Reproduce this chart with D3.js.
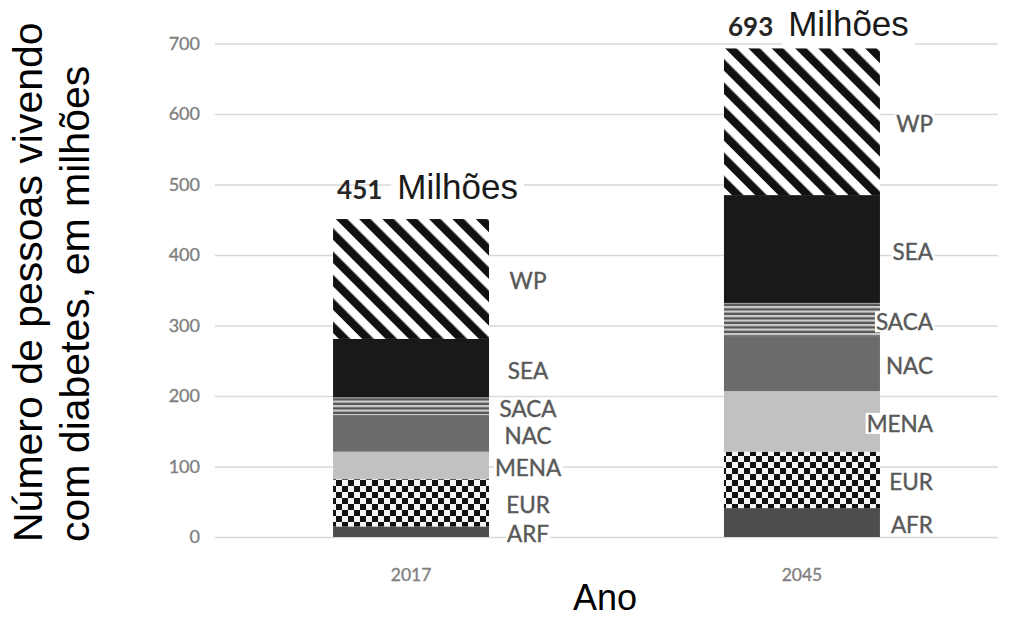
<!DOCTYPE html>
<html>
<head>
<meta charset="utf-8">
<script src="https://cdn.jsdelivr.net/npm/d3@7"></script>
<style>
  body { margin: 0; background: #fff; }
  svg { display: block; }
</style>
</head>
<body>
<svg id="chart" width="1019" height="619"></svg>
<script>
// ---- data ----
const years = ["2017", "2045"];
const regions = ["AFR", "EUR", "MENA", "NAC", "SACA", "SEA", "WP"];
const regionLabels2017 = ["ARF", "EUR", "MENA", "NAC", "SACA", "SEA", "WP"];
const regionLabels2045 = ["AFR", "EUR", "MENA", "NAC", "SACA", "SEA", "WP"];
const values2017 = [15, 67, 39, 52, 25, 83, 170];
const values2045 = [41, 80, 86, 77, 48, 153, 208];
const totals = [451, 693];
const totalUnit = "Milhões";
const yTicks = [0, 100, 200, 300, 400, 500, 600, 700];
const yTitle = ["Número de pessoas vivendo", "com diabetes, em milhões"];
const xTitle = "Ano";

// ---- layout ----
const plot = { left: 215, right: 998, top: 43.5, bottom: 537 };
const labelFont = "Lato, 'Open Sans', sans-serif";
const titleFont = "'Liberation Sans', Arial, sans-serif";

const svg = d3.select("#chart");

const table = years.map((yr, i) => {
  const row = { year: yr };
  const vals = i === 0 ? values2017 : values2045;
  regions.forEach((r, j) => { row[r] = vals[j]; });
  return row;
});
const labelSets = [regionLabels2017, regionLabels2045];

const stacked = d3.stack().keys(regions)(table);

const x = d3.scaleBand()
  .domain(years)
  .range([plot.left, plot.right])
  .paddingInner(0.601)
  .paddingOuter(0.302);

const y = d3.scaleLinear()
  .domain([0, 700])
  .range([plot.bottom, plot.top]);

// ---- fill patterns ----
const defs = svg.append("defs");

// diagonal stripes
const diag = defs.append("pattern")
  .attr("id", "diag")
  .attr("patternUnits", "userSpaceOnUse")
  .attr("width", 16.5).attr("height", 16.5)
  .attr("patternTransform", "rotate(-45)");
diag.append("rect").attr("width", 16.5).attr("height", 16.5).attr("fill", "#ffffff");
diag.append("rect").attr("width", 8.2).attr("height", 16.5).attr("fill", "#111111");

// horizontal stripes
const hstripe = defs.append("pattern")
  .attr("id", "hstripe")
  .attr("patternUnits", "userSpaceOnUse")
  .attr("width", 10).attr("height", 4.5);
hstripe.append("rect").attr("width", 10).attr("height", 4.5).attr("fill", "#555555");
hstripe.append("rect").attr("y", 0).attr("width", 10).attr("height", 2.2).attr("fill", "#cdcdcd");

// checkerboard
const cell = 6;
const checker = defs.append("pattern")
  .attr("id", "checker")
  .attr("patternUnits", "userSpaceOnUse")
  .attr("width", cell * 2).attr("height", cell * 2);
checker.append("rect").attr("width", cell * 2).attr("height", cell * 2).attr("fill", "#f4f4f4");
checker.append("rect").attr("width", cell).attr("height", cell).attr("fill", "#111111");
checker.append("rect").attr("x", cell).attr("y", cell).attr("width", cell).attr("height", cell).attr("fill", "#111111");

const fills = {
  AFR: "#4d4d4d",
  EUR: "url(#checker)",
  MENA: "#c1c1c1",
  NAC: "#6b6b6b",
  SACA: "url(#hstripe)",
  SEA: "#191919",
  WP: "url(#diag)"
};

// ---- y axis with gridlines ----
const yAxis = svg.append("g")
  .attr("transform", `translate(${plot.left},0)`)
  .call(d3.axisLeft(y).tickValues(yTicks).tickSize(-(plot.right - plot.left)).tickPadding(15));
yAxis.select(".domain").remove();
yAxis.selectAll(".tick line").attr("stroke", "#d9d9d9").attr("stroke-width", 1.6);
yAxis.selectAll(".tick text")
  .attr("fill", "#7f7f7f")
  .attr("stroke", "#7f7f7f")
  .attr("stroke-width", 0.35)
  .style("font-family", labelFont)
  .style("font-size", "18px");

// ---- x axis ----
const xAxis = svg.append("g")
  .attr("transform", `translate(0,${plot.bottom})`)
  .call(d3.axisBottom(x).tickSize(0).tickPadding(32));
xAxis.select(".domain").remove();
xAxis.selectAll(".tick text")
  .attr("fill", "#7f7f7f")
  .attr("stroke", "#7f7f7f")
  .attr("stroke-width", 0.35)
  .style("font-family", labelFont)
  .style("font-size", "17.5px");

// ---- stacked bars ----
svg.append("g")
  .selectAll("g")
  .data(stacked)
  .join("g")
  .attr("fill", d => fills[d.key])
  .selectAll("rect")
  .data(d => d)
  .join("rect")
  .attr("x", d => x(d.data.year))
  .attr("y", d => y(d[1]))
  .attr("width", x.bandwidth())
  .attr("height", d => y(d[0]) - y(d[1]));

// ---- segment labels ----
const labelPlacement = [
  { anchor: "middle", dx: 39 },
  { anchor: "end", dx: 53 }
];
const labelG = svg.append("g");
stacked.forEach((layer, j) => {
  layer.forEach((seg, i) => {
    const place = labelPlacement[i];
    const barRight = x(years[i]) + x.bandwidth();
    const t = labelG.append("text")
      .attr("x", barRight + place.dx)
      .attr("y", y((seg[0] + seg[1]) / 2) + 2)
      .attr("text-anchor", place.anchor)
      .attr("dominant-baseline", "central")
      .attr("fill", "#595959")
      .attr("stroke", "#595959")
      .attr("stroke-width", 0.4)
      .style("font-family", labelFont)
      .style("font-size", "22.5px")
      .text(labelSets[i][j]);
    const bb = t.node().getBBox();
    labelG.insert("rect", "text")
      .attr("x", bb.x - 1).attr("y", bb.y + 3)
      .attr("width", bb.width + 2).attr("height", bb.height - 6)
      .attr("fill", "#ffffff");
  });
});

// ---- totals above bars ----
const totalBaseline = [-20, -12];
totals.forEach((tot, i) => {
  const left = x(years[i]) + 4;
  const base = y(tot) + totalBaseline[i];
  const num = svg.append("text")
    .attr("x", left).attr("y", base)
    .attr("fill", "#262626")
    .style("font-family", labelFont)
    .style("font-weight", "bold")
    .style("font-size", "26px")
    .text(tot);
  const numW = num.node().getComputedTextLength();
  const unitX = left + numW + 15;
  const unit = svg.append("text")
    .attr("x", unitX).attr("y", base)
    .attr("fill", "#1a1a1a")
    .style("font-family", titleFont)
    .style("font-size", "35px")
    .text(totalUnit);
  const bb = unit.node().getBBox();
  svg.insert("rect", () => unit.node())
    .attr("x", bb.x - 6).attr("y", bb.y)
    .attr("width", bb.width + 12).attr("height", (base + 10) - bb.y)
    .attr("fill", "#ffffff");
});

// ---- axis titles ----
yTitle.forEach((line, k) => {
  svg.append("text")
    .attr("transform", `translate(${42 + k * 47},542) rotate(-90)`)
    .attr("text-anchor", "start")
    .attr("fill", "#000")
    .style("font-family", titleFont)
    .style("font-size", "41px")
    .text(line);
});

svg.append("text")
  .attr("x", 605).attr("y", 610)
  .attr("text-anchor", "middle")
  .attr("fill", "#000")
  .style("font-family", titleFont)
  .style("font-size", "36px")
  .text(xTitle);
</script>
</body>
</html>
